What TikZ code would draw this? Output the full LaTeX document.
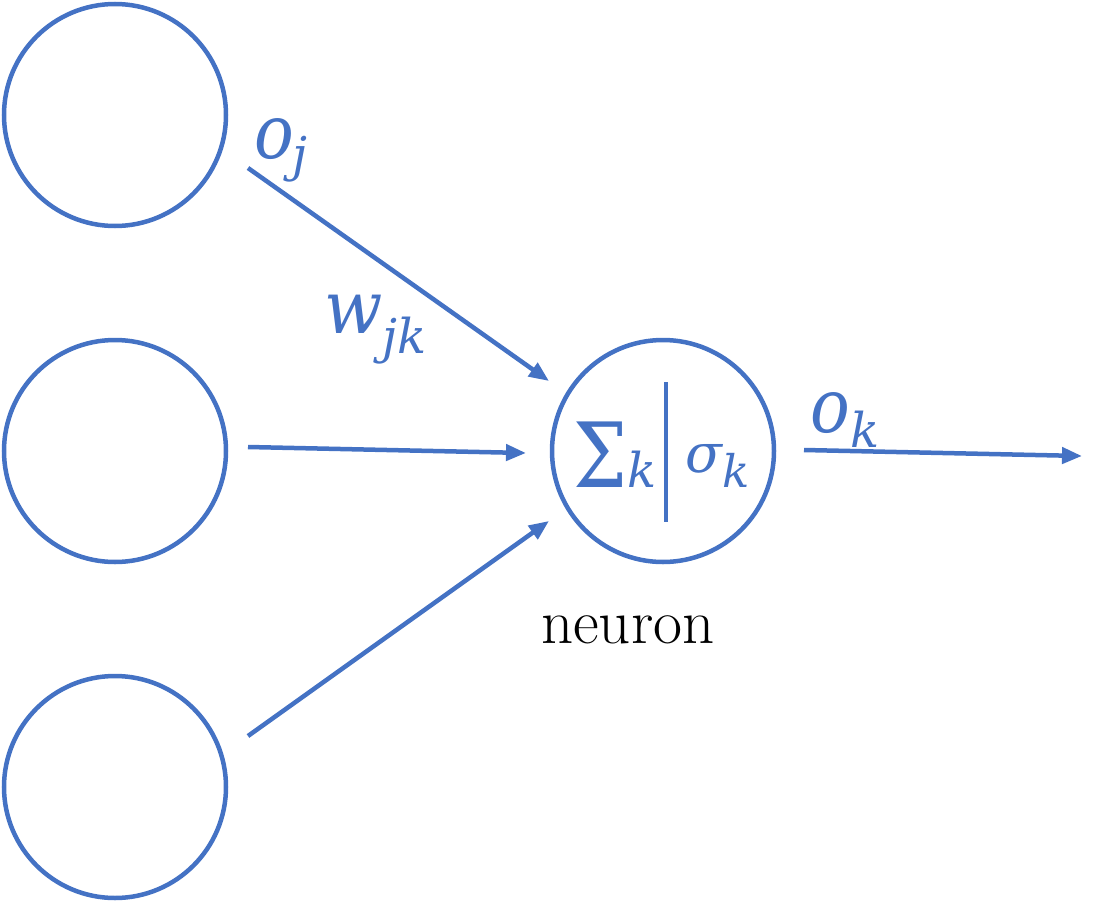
\documentclass[tikz,border=0pt]{standalone}
\usepackage{fontspec}
\newfontfamily\mo[FakeStretch=0.88]{DejaVu Serif}
\newfontfamily\mw[FakeStretch=0.92]{DejaVu Serif}
\newfontfamily\ms[FakeStretch=0.85]{DejaVu Serif}
\newfontfamily\mfontw{DejaVu Serif}
\usetikzlibrary{arrows.meta}
\definecolor{obl}{HTML}{4472C4}
\begin{document}
\begin{tikzpicture}[x=1pt,y=-1pt,
  ring/.style={draw=obl,line width=4.5pt},
  conn/.style={draw=obl,line width=4.5pt,-{Triangle[length=20pt,width=16pt]}},
  lab/.style={text=obl,inner sep=0pt,anchor=base west,font=\fontsize{75}{80}\mo\itshape},
  sub/.style={text=obl,inner sep=0pt,anchor=base west,font=\fontsize{48}{52}\mfontw\itshape}]
\useasboundingbox (0,0) rectangle (1095,902);
\draw[ring] (115,115) circle[radius=111];
\draw[ring] (115,451) circle[radius=111];
\draw[ring] (115,787) circle[radius=111];
\node[ring,circle,minimum size=222pt,inner sep=0pt] (n) at (663,451) {};
\coordinate (vt) at (666,382);
\coordinate (vb) at (666,522);
\draw[draw=obl,line width=4.5pt] (vt) -- (vb);
% arrows
\coordinate (s1) at (248,168); \coordinate (e1) at (549,381);
\coordinate (s2) at (248,447); \coordinate (e2) at (526,453);
\coordinate (s3) at (248,736); \coordinate (e3) at (549,521);
\coordinate (so) at (804,450); \coordinate (eo) at (1082,456);
\draw[conn] (s1) -- (e1);
\draw[conn] (s2) -- (e2);
\draw[conn] (s3) -- (e3);
\draw[conn] (so) -- (eo);
% labels
\node[lab] (oj) at (254,158) {o};
\node[sub] (ojs) at (292,171) {j};
\node[lab,font=\fontsize{74}{78}\mw\itshape] (w) at (324,333) {w};
\node[sub] (ws) at (382,353) {jk};
\node[lab] (ok) at (810,432) {o};
\node[sub] (oks) at (850,447) {k};
\node[text=obl,inner sep=0pt,anchor=base west,font=\fontsize{90}{94}\ms] (sig) at (573,487) {Σ};
\node[sub] (sigs) at (627,487) {k};
\node[text=obl,inner sep=0pt,anchor=base west,font=\fontsize{54}{58}\mfontw\itshape] (sm) at (685,472) {σ};
\node[text=obl,inner sep=0pt,anchor=base west,font=\fontsize{45}{50}\mfontw\itshape] (sms) at (722,487) {k};
\node[inner sep=0pt,anchor=base west,font=\fontsize{63}{67}\selectfont] (neu) at (541,643) {neuron};
\end{tikzpicture}
\end{document}
